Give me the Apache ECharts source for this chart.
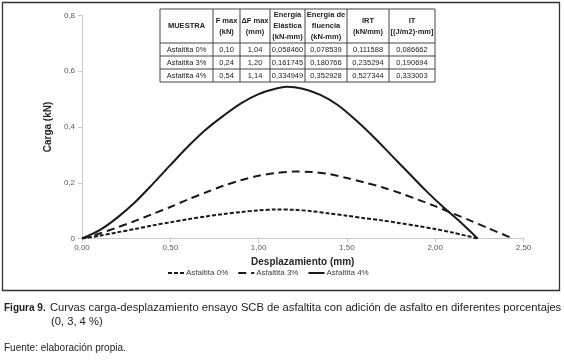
<!DOCTYPE html>
<html>
<head>
<meta charset="utf-8">
<script src="https://cdn.jsdelivr.net/npm/echarts@6/dist/echarts.min.js"></script>
<style>
  html, body { margin: 0; padding: 0; background: #fff; }
  #chart { width: 564px; height: 361px; }
</style>
</head>
<body>
<div id="chart"></div>
<script>
// curve points [desplazamiento mm, carga kN]
const asf0 = [[0,0],[0.1,0.01],[0.2,0.022],[0.3,0.034],[0.4,0.047],[0.5,0.058],[0.6,0.069],[0.7,0.079],[0.8,0.088],[0.9,0.095],[1.0,0.101],[1.1,0.104],[1.2,0.103],[1.3,0.098],[1.4,0.09],[1.5,0.082],[1.6,0.073],[1.7,0.065],[1.8,0.055],[1.9,0.045],[2.0,0.034],[2.1,0.021],[2.24,0]];
const asf3 = [[0,0],[0.1,0.018],[0.2,0.04],[0.3,0.063],[0.4,0.088],[0.5,0.113],[0.6,0.14],[0.7,0.165],[0.8,0.189],[0.9,0.209],[1.0,0.225],[1.1,0.235],[1.2,0.24],[1.3,0.239],[1.4,0.231],[1.5,0.217],[1.6,0.201],[1.7,0.184],[1.8,0.163],[1.9,0.14],[2.0,0.116],[2.1,0.09],[2.2,0.064],[2.3,0.037],[2.44,0]];
const asf4 = [[0,0],[0.1,0.03],[0.2,0.075],[0.3,0.13],[0.4,0.195],[0.5,0.263],[0.6,0.33],[0.7,0.39],[0.8,0.44],[0.9,0.485],[1.0,0.518],[1.1,0.538],[1.16,0.544],[1.25,0.537],[1.35,0.515],[1.45,0.478],[1.55,0.425],[1.65,0.365],[1.75,0.3],[1.85,0.235],[1.95,0.17],[2.05,0.11],[2.15,0.055],[2.24,0]];
const seriesNames = ['Asfaltita 0%', 'Asfaltita 3%', 'Asfaltita 4%'];

// table in the plot
const tableHead = [['MUESTRA'], ['F max', '(kN)'], ['ΔF max', '(mm)'], ['Energía', 'Elástica', '(kN-mm)'], ['Energía de', 'fluencia', '(kN-mm)'], ['IRT', '(kN/mm)'], ['IT', '[(J/m2)·mm]']];
const tableRows = [
  ['Asfaltita 0%', '0,10', '1,04', '0,058460', '0,078539', '0,111588', '0,086662'],
  ['Asfaltita 3%', '0,24', '1,20', '0,161745', '0,180766', '0,235294', '0,190694'],
  ['Asfaltita 4%', '0,54', '1,14', '0,334949', '0,352928', '0,527344', '0,333003']
];

const captionLabel = 'Figura 9.';
const captionLine1 = 'Curvas carga-desplazamiento ensayo SCB de asfaltita con adición de asfalto en diferentes porcentajes';
const captionLine2 = '(0, 3, 4 %)';
const sourceText = 'Fuente: elaboración propia.';

const chart = echarts.init(document.getElementById('chart'));

// table graphics
const colX = [160, 213, 240, 270, 305, 347, 389, 435];
const rowY = [9, 43, 56, 69, 82];
const tFont = '"Liberation Sans Narrow", "Liberation Sans", Arial, sans-serif';
const tableEls = [];
tableEls.push({ type: 'rect', shape: { x: colX[0], y: rowY[0], width: colX[7] - colX[0], height: rowY[4] - rowY[0] }, style: { fill: '#fff', stroke: '#444', lineWidth: 1 }, z: 10 });
colX.slice(1, 7).forEach(x => tableEls.push({ type: 'line', shape: { x1: x, y1: rowY[0], x2: x, y2: rowY[4] }, style: { stroke: '#444', lineWidth: 1 }, z: 11 }));
rowY.slice(1, 4).forEach(y => tableEls.push({ type: 'line', shape: { x1: colX[0], y1: y, x2: colX[7], y2: y }, style: { stroke: '#444', lineWidth: 1 }, z: 11 }));
tableHead.forEach((lines, i) => {
  tableEls.push({
    type: 'text', z: 12,
    style: {
      text: lines.join('\n'), x: (colX[i] + colX[i + 1]) / 2, y: (rowY[0] + rowY[1]) / 2,
      align: 'center', verticalAlign: 'middle', lineHeight: 11,
      font: 'bold 7.5px ' + tFont, fill: '#222'
    }
  });
});
tableRows.forEach((row, r) => {
  row.forEach((v, i) => {
    tableEls.push({
      type: 'text', z: 12,
      style: {
        text: v, x: (colX[i] + colX[i + 1]) / 2, y: (rowY[r + 1] + rowY[r + 2]) / 2 + 0.5,
        align: 'center', verticalAlign: 'middle',
        font: '7.5px ' + tFont, fill: '#222'
      }
    });
  });
});

const capFont = 'Arial, "Liberation Sans", sans-serif';

chart.setOption({
  animation: false,
  backgroundColor: '#fff',
  grid: { left: 82, right: 40.5, top: 15.5, bottom: 122.5 },
  legend: {
    data: seriesNames,
    top: 264,
    left: 162,
    itemWidth: 16,
    itemHeight: 8,
    itemGap: 9,
    itemStyle: { opacity: 0 },
    textStyle: { fontSize: 8, color: '#404040', fontFamily: 'Arial', padding: [0, 0, 0, -3] }
  },
  xAxis: {
    type: 'value', min: 0, max: 2.5, interval: 0.5,
    name: 'Desplazamiento (mm)', nameLocation: 'middle', nameGap: 19,
    nameTextStyle: { fontSize: 10, fontWeight: 'bold', color: '#262626', fontFamily: 'Arial' },
    axisLine: { lineStyle: { color: '#c8c8c8' } },
    axisTick: { show: true, length: 4, lineStyle: { color: '#c8c8c8' } },
    axisLabel: { fontSize: 8, color: '#595959', margin: 5, formatter: v => v.toFixed(2).replace('.', ',') },
    splitLine: { show: false }
  },
  yAxis: {
    type: 'value', min: 0, max: 0.8, interval: 0.2,
    name: 'Carga (kN)', nameLocation: 'middle', nameGap: 29, nameRotate: 90,
    nameTextStyle: { fontSize: 10, fontWeight: 'bold', color: '#262626', fontFamily: 'Arial' },
    axisLine: { show: true, lineStyle: { color: '#c8c8c8' } },
    axisTick: { show: true, length: 4, lineStyle: { color: '#c8c8c8' } },
    axisLabel: { fontSize: 8, color: '#595959', margin: 7, formatter: v => v === 0 ? '0' : v.toFixed(1).replace('.', ',') },
    splitLine: { show: false }
  },
  series: [
    { name: seriesNames[0], type: 'line', data: asf0, smooth: 0.3, symbol: 'none', color: '#1a1a1a',
      lineStyle: { width: 2, type: [4, 2], color: '#1a1a1a' } },
    { name: seriesNames[1], type: 'line', data: asf3, smooth: 0.3, symbol: 'none', color: '#1a1a1a',
      lineStyle: { width: 2, type: [8, 5], color: '#1a1a1a' } },
    { name: seriesNames[2], type: 'line', data: asf4, smooth: 0.3, symbol: 'none', color: '#1a1a1a',
      lineStyle: { width: 2, color: '#1a1a1a' } }
  ],
  graphic: [
    { type: 'rect', shape: { x: 2.5, y: 2.5, width: 557, height: 288 }, style: { fill: 'none', stroke: '#333', lineWidth: 1.3 }, z: 1 },
    ...tableEls,
    { type: 'text', style: { text: captionLabel, x: 4, y: 308, verticalAlign: 'middle', font: 'bold 10px ' + capFont, fill: '#222' } },
    { type: 'text', style: { text: captionLine1, x: 50, y: 308, verticalAlign: 'middle', font: '11.2px ' + capFont, fill: '#222' } },
    { type: 'text', style: { text: captionLine2, x: 51, y: 322, verticalAlign: 'middle', font: '11.2px ' + capFont, fill: '#222' } },
    { type: 'text', style: { text: sourceText, x: 4, y: 348, verticalAlign: 'middle', font: '10px ' + capFont, fill: '#222' } }
  ]
});
</script>
</body>
</html>
